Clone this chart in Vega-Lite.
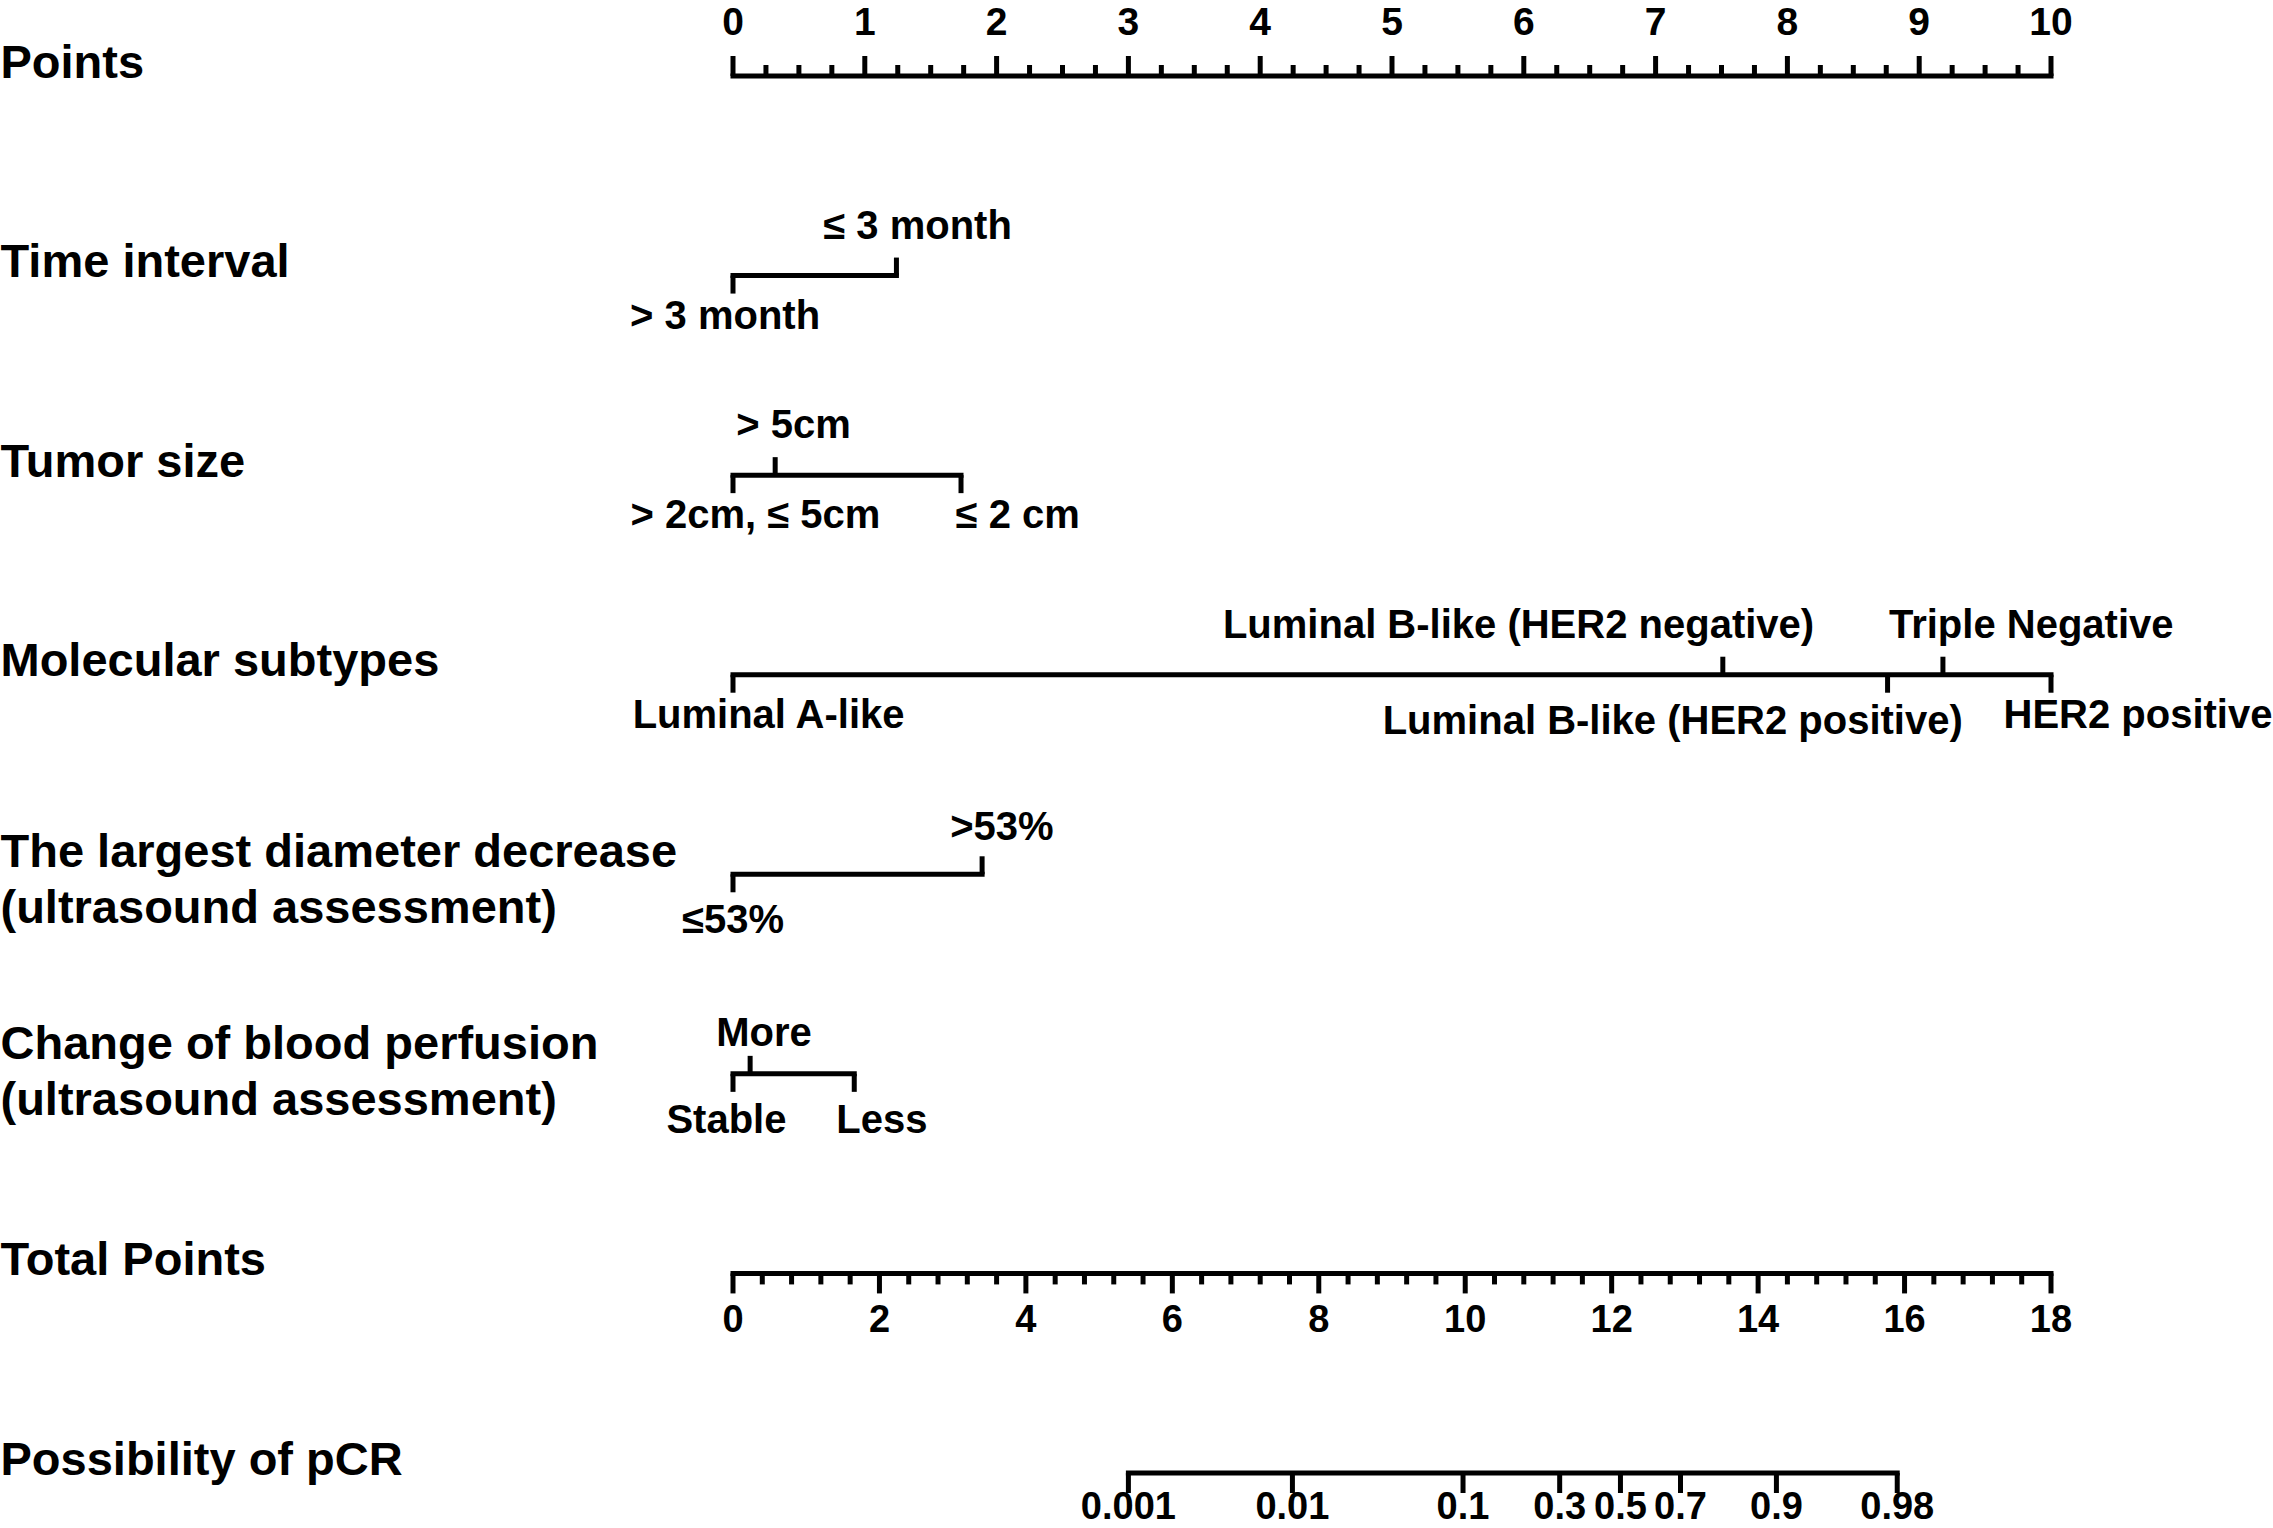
{
  "$schema": "https://vega.github.io/schema/vega-lite/v6.json",
  "width": 1318,
  "height": 1397,
  "autosize": {"type": "none"},
  "padding": {"left": 733, "top": 76, "right": 222, "bottom": 55},
  "background": "white",
  "config": {"view": {"stroke": null}},
  "datasets": {
    "scales": [
      {"row": "Points", "unit": "pt", "from": 0, "to": 10},
      {"row": "Time interval", "unit": "pt", "from": 0, "to": 1.24},
      {"row": "Tumor size", "unit": "pt", "from": 0, "to": 1.73},
      {"row": "Molecular subtypes", "unit": "pt", "from": 0, "to": 10},
      {"row": "The largest diameter decrease\n(ultrasound assessment)", "unit": "pt", "from": 0, "to": 1.89},
      {"row": "Change of blood perfusion\n(ultrasound assessment)", "unit": "pt", "from": 0, "to": 0.92},
      {"row": "Total Points", "unit": "tp", "from": 0, "to": 18},
      {"row": "Possibility of pCR", "unit": "tp", "from": 5.40, "to": 15.90}
    ],
    "levels": [
      {"row": "Time interval", "x": 0, "label": "> 3 month", "lx": -0.06, "side": "below"},
      {"row": "Time interval", "x": 1.24, "label": "≤ 3 month", "lx": 1.40, "side": "above"},
      {"row": "Tumor size", "x": 0, "label": "> 2cm, ≤ 5cm", "lx": 0.17, "side": "below"},
      {"row": "Tumor size", "x": 0.32, "label": "> 5cm", "lx": 0.46, "side": "above"},
      {"row": "Tumor size", "x": 1.73, "label": "≤ 2 cm", "lx": 2.16, "side": "below"},
      {"row": "Molecular subtypes", "x": 0, "label": "Luminal A-like", "lx": 0.27, "side": "below"},
      {"row": "Molecular subtypes", "x": 7.51, "label": "Luminal B-like (HER2 negative)", "lx": 5.96, "side": "above"},
      {"row": "Molecular subtypes", "x": 8.76, "label": "Luminal B-like (HER2 positive)", "lx": 7.13, "side": "below"},
      {"row": "Molecular subtypes", "x": 9.18, "label": "Triple Negative", "lx": 9.85, "side": "above"},
      {"row": "Molecular subtypes", "x": 10, "label": "HER2 positive", "lx": 10.66, "side": "below"},
      {"row": "The largest diameter decrease\n(ultrasound assessment)", "x": 0, "label": "≤53%", "lx": 0.0, "side": "below"},
      {"row": "The largest diameter decrease\n(ultrasound assessment)", "x": 1.89, "label": ">53%", "lx": 2.04, "side": "above"},
      {"row": "Change of blood perfusion\n(ultrasound assessment)", "x": 0, "label": "Stable", "lx": -0.05, "side": "below"},
      {"row": "Change of blood perfusion\n(ultrasound assessment)", "x": 0.13, "label": "More", "lx": 0.235, "side": "above"},
      {"row": "Change of blood perfusion\n(ultrasound assessment)", "x": 0.92, "label": "Less", "lx": 1.13, "side": "below"}
    ],
    "axisTicks": [
      {"row": "Points", "value": 0, "kind": "major", "label": "0"},
      {"row": "Points", "value": 1, "kind": "major", "label": "1"},
      {"row": "Points", "value": 2, "kind": "major", "label": "2"},
      {"row": "Points", "value": 3, "kind": "major", "label": "3"},
      {"row": "Points", "value": 4, "kind": "major", "label": "4"},
      {"row": "Points", "value": 5, "kind": "major", "label": "5"},
      {"row": "Points", "value": 6, "kind": "major", "label": "6"},
      {"row": "Points", "value": 7, "kind": "major", "label": "7"},
      {"row": "Points", "value": 8, "kind": "major", "label": "8"},
      {"row": "Points", "value": 9, "kind": "major", "label": "9"},
      {"row": "Points", "value": 10, "kind": "major", "label": "10"},
      {"row": "Points", "value": 0.25, "kind": "minor"},
      {"row": "Points", "value": 0.5, "kind": "minor"},
      {"row": "Points", "value": 0.75, "kind": "minor"},
      {"row": "Points", "value": 1.25, "kind": "minor"},
      {"row": "Points", "value": 1.5, "kind": "minor"},
      {"row": "Points", "value": 1.75, "kind": "minor"},
      {"row": "Points", "value": 2.25, "kind": "minor"},
      {"row": "Points", "value": 2.5, "kind": "minor"},
      {"row": "Points", "value": 2.75, "kind": "minor"},
      {"row": "Points", "value": 3.25, "kind": "minor"},
      {"row": "Points", "value": 3.5, "kind": "minor"},
      {"row": "Points", "value": 3.75, "kind": "minor"},
      {"row": "Points", "value": 4.25, "kind": "minor"},
      {"row": "Points", "value": 4.5, "kind": "minor"},
      {"row": "Points", "value": 4.75, "kind": "minor"},
      {"row": "Points", "value": 5.25, "kind": "minor"},
      {"row": "Points", "value": 5.5, "kind": "minor"},
      {"row": "Points", "value": 5.75, "kind": "minor"},
      {"row": "Points", "value": 6.25, "kind": "minor"},
      {"row": "Points", "value": 6.5, "kind": "minor"},
      {"row": "Points", "value": 6.75, "kind": "minor"},
      {"row": "Points", "value": 7.25, "kind": "minor"},
      {"row": "Points", "value": 7.5, "kind": "minor"},
      {"row": "Points", "value": 7.75, "kind": "minor"},
      {"row": "Points", "value": 8.25, "kind": "minor"},
      {"row": "Points", "value": 8.5, "kind": "minor"},
      {"row": "Points", "value": 8.75, "kind": "minor"},
      {"row": "Points", "value": 9.25, "kind": "minor"},
      {"row": "Points", "value": 9.5, "kind": "minor"},
      {"row": "Points", "value": 9.75, "kind": "minor"},
      {"row": "Total Points", "value": 0, "kind": "major", "label": "0"},
      {"row": "Total Points", "value": 2, "kind": "major", "label": "2"},
      {"row": "Total Points", "value": 4, "kind": "major", "label": "4"},
      {"row": "Total Points", "value": 6, "kind": "major", "label": "6"},
      {"row": "Total Points", "value": 8, "kind": "major", "label": "8"},
      {"row": "Total Points", "value": 10, "kind": "major", "label": "10"},
      {"row": "Total Points", "value": 12, "kind": "major", "label": "12"},
      {"row": "Total Points", "value": 14, "kind": "major", "label": "14"},
      {"row": "Total Points", "value": 16, "kind": "major", "label": "16"},
      {"row": "Total Points", "value": 18, "kind": "major", "label": "18"},
      {"row": "Total Points", "value": 0.4, "kind": "minor"},
      {"row": "Total Points", "value": 0.8, "kind": "minor"},
      {"row": "Total Points", "value": 1.2, "kind": "minor"},
      {"row": "Total Points", "value": 1.6, "kind": "minor"},
      {"row": "Total Points", "value": 2.4, "kind": "minor"},
      {"row": "Total Points", "value": 2.8, "kind": "minor"},
      {"row": "Total Points", "value": 3.2, "kind": "minor"},
      {"row": "Total Points", "value": 3.6, "kind": "minor"},
      {"row": "Total Points", "value": 4.4, "kind": "minor"},
      {"row": "Total Points", "value": 4.8, "kind": "minor"},
      {"row": "Total Points", "value": 5.2, "kind": "minor"},
      {"row": "Total Points", "value": 5.6, "kind": "minor"},
      {"row": "Total Points", "value": 6.4, "kind": "minor"},
      {"row": "Total Points", "value": 6.8, "kind": "minor"},
      {"row": "Total Points", "value": 7.2, "kind": "minor"},
      {"row": "Total Points", "value": 7.6, "kind": "minor"},
      {"row": "Total Points", "value": 8.4, "kind": "minor"},
      {"row": "Total Points", "value": 8.8, "kind": "minor"},
      {"row": "Total Points", "value": 9.2, "kind": "minor"},
      {"row": "Total Points", "value": 9.6, "kind": "minor"},
      {"row": "Total Points", "value": 10.4, "kind": "minor"},
      {"row": "Total Points", "value": 10.8, "kind": "minor"},
      {"row": "Total Points", "value": 11.2, "kind": "minor"},
      {"row": "Total Points", "value": 11.6, "kind": "minor"},
      {"row": "Total Points", "value": 12.4, "kind": "minor"},
      {"row": "Total Points", "value": 12.8, "kind": "minor"},
      {"row": "Total Points", "value": 13.2, "kind": "minor"},
      {"row": "Total Points", "value": 13.6, "kind": "minor"},
      {"row": "Total Points", "value": 14.4, "kind": "minor"},
      {"row": "Total Points", "value": 14.8, "kind": "minor"},
      {"row": "Total Points", "value": 15.2, "kind": "minor"},
      {"row": "Total Points", "value": 15.6, "kind": "minor"},
      {"row": "Total Points", "value": 16.4, "kind": "minor"},
      {"row": "Total Points", "value": 16.8, "kind": "minor"},
      {"row": "Total Points", "value": 17.2, "kind": "minor"},
      {"row": "Total Points", "value": 17.6, "kind": "minor"},
      {"row": "Possibility of pCR", "value": 5.40, "kind": "major", "label": "0.001"},
      {"row": "Possibility of pCR", "value": 7.64, "kind": "major", "label": "0.01"},
      {"row": "Possibility of pCR", "value": 9.97, "kind": "major", "label": "0.1"},
      {"row": "Possibility of pCR", "value": 11.29, "kind": "major", "label": "0.3"},
      {"row": "Possibility of pCR", "value": 12.12, "kind": "major", "label": "0.5"},
      {"row": "Possibility of pCR", "value": 12.94, "kind": "major", "label": "0.7"},
      {"row": "Possibility of pCR", "value": 14.25, "kind": "major", "label": "0.9"},
      {"row": "Possibility of pCR", "value": 15.90, "kind": "major", "label": "0.98"}
    ]
  },
  "encoding": {
    "y": {
      "field": "row",
      "type": "nominal",
      "scale": {
        "type": "point",
        "padding": 0,
        "domain": [
          "Points",
          "Time interval",
          "Tumor size",
          "Molecular subtypes",
          "The largest diameter decrease\n(ultrasound assessment)",
          "Change of blood perfusion\n(ultrasound assessment)",
          "Total Points",
          "Possibility of pCR"
        ]
      },
      "axis": {
        "title": null,
        "domain": false,
        "ticks": false,
        "tickSize": 0,
        "labelAlign": "left",
        "labelBaseline": "alphabetic",
        "labelPadding": 733,
        "labelFont": "Liberation Sans",
        "labelFontSize": 47,
        "labelFontWeight": "bold",
        "labelColor": "black",
        "labelLimit": 2000,
        "labelOverlap": false,
        "labelLineHeight": 56,
        "labelExpr": "split(datum.label, '\\n')",
        "labelOffset": {"condition": [
          {"test": "indexof(datum.value, 'diameter') >= 0", "value": -8},
          {"test": "indexof(datum.value, 'perfusion') >= 0", "value": -15}
        ], "value": 1}
      }
    }
  },
  "layer": [
    {
      "data": {"name": "scales"},
      "transform": [{"filter": "datum.unit == 'pt'"}],
      "mark": {"type": "rule", "strokeWidth": 5, "color": "black", "strokeCap": "square"},
      "encoding": {
        "x": {"field": "from", "type": "quantitative", "scale": {"domain": [0, 10], "nice": false, "zero": false}, "axis": null},
        "x2": {"field": "to"}
      }
    },
    {
      "data": {"name": "scales"},
      "transform": [{"filter": "datum.unit == 'tp'"}],
      "mark": {"type": "rule", "strokeWidth": 5, "color": "black", "strokeCap": "square"},
      "encoding": {
        "x": {"field": "from", "type": "quantitative", "scale": {"domain": [0, 18], "nice": false, "zero": false}, "axis": null},
        "x2": {"field": "to"}
      }
    },
    {
      "data": {"name": "axisTicks"},
      "transform": [{"filter": "datum.row == 'Points' && datum.kind == 'major'"}],
      "mark": {"type": "tick", "orient": "vertical", "size": 20, "thickness": 5, "color": "black", "opacity": 1, "yOffset": -10},
      "encoding": {
        "x": {"field": "value", "type": "quantitative", "scale": {"domain": [0, 10], "nice": false, "zero": false}, "axis": null}
      }
    },
    {
      "data": {"name": "axisTicks"},
      "transform": [{"filter": "datum.row == 'Points' && datum.kind == 'minor'"}],
      "mark": {"type": "tick", "orient": "vertical", "size": 11, "thickness": 5, "color": "black", "opacity": 1, "yOffset": -5.5},
      "encoding": {
        "x": {"field": "value", "type": "quantitative", "scale": {"domain": [0, 10], "nice": false, "zero": false}, "axis": null}
      }
    },
    {
      "data": {"name": "axisTicks"},
      "transform": [{"filter": "datum.row != 'Points' && datum.kind == 'major'"}],
      "mark": {"type": "tick", "orient": "vertical", "size": 20, "thickness": 5, "color": "black", "opacity": 1, "yOffset": 10},
      "encoding": {
        "x": {"field": "value", "type": "quantitative", "scale": {"domain": [0, 18], "nice": false, "zero": false}, "axis": null}
      }
    },
    {
      "data": {"name": "axisTicks"},
      "transform": [{"filter": "datum.row != 'Points' && datum.kind == 'minor'"}],
      "mark": {"type": "tick", "orient": "vertical", "size": 11, "thickness": 5, "color": "black", "opacity": 1, "yOffset": 5.5},
      "encoding": {
        "x": {"field": "value", "type": "quantitative", "scale": {"domain": [0, 18], "nice": false, "zero": false}, "axis": null}
      }
    },
    {
      "data": {"name": "levels"},
      "transform": [{"filter": "datum.side == 'above'"}],
      "mark": {"type": "tick", "orient": "vertical", "size": 18, "thickness": 5, "color": "black", "opacity": 1, "yOffset": -9},
      "encoding": {
        "x": {"field": "x", "type": "quantitative", "scale": {"domain": [0, 10], "nice": false, "zero": false}, "axis": null}
      }
    },
    {
      "data": {"name": "levels"},
      "transform": [{"filter": "datum.side == 'below'"}],
      "mark": {"type": "tick", "orient": "vertical", "size": 18, "thickness": 5, "color": "black", "opacity": 1, "yOffset": 9},
      "encoding": {
        "x": {"field": "x", "type": "quantitative", "scale": {"domain": [0, 10], "nice": false, "zero": false}, "axis": null}
      }
    },
    {
      "data": {"name": "axisTicks"},
      "transform": [{"filter": "datum.row == 'Points' && datum.kind == 'major'"}],
      "mark": {"type": "text", "font": "Liberation Sans", "fontWeight": "bold", "fontSize": 39, "color": "black", "align": "center", "baseline": "alphabetic", "dy": -41},
      "encoding": {
        "x": {"field": "value", "type": "quantitative", "scale": {"domain": [0, 10], "nice": false, "zero": false}, "axis": null},
        "text": {"field": "label"}
      }
    },
    {
      "data": {"name": "axisTicks"},
      "transform": [{"filter": "datum.row == 'Total Points' && datum.kind == 'major'"}],
      "mark": {"type": "text", "font": "Liberation Sans", "fontWeight": "bold", "fontSize": 38, "color": "black", "align": "center", "baseline": "alphabetic", "dy": 59},
      "encoding": {
        "x": {"field": "value", "type": "quantitative", "scale": {"domain": [0, 18], "nice": false, "zero": false}, "axis": null},
        "text": {"field": "label"}
      }
    },
    {
      "data": {"name": "axisTicks"},
      "transform": [{"filter": "datum.row == 'Possibility of pCR'"}],
      "mark": {"type": "text", "font": "Liberation Sans", "fontWeight": "bold", "fontSize": 38, "color": "black", "align": "center", "baseline": "alphabetic", "dy": 46},
      "encoding": {
        "x": {"field": "value", "type": "quantitative", "scale": {"domain": [0, 18], "nice": false, "zero": false}, "axis": null},
        "text": {"field": "label"}
      }
    },
    {
      "data": {"name": "levels"},
      "transform": [{"filter": "datum.side == 'above' && indexof(datum.row, 'ultrasound') < 0"}],
      "mark": {"type": "text", "font": "Liberation Sans", "fontWeight": "bold", "fontSize": 40, "color": "black", "align": "center", "baseline": "alphabetic", "dy": -37},
      "encoding": {
        "x": {"field": "lx", "type": "quantitative", "scale": {"domain": [0, 10], "nice": false, "zero": false}, "axis": null},
        "text": {"field": "label"}
      }
    },
    {
      "data": {"name": "levels"},
      "transform": [{"filter": "datum.side == 'above' && indexof(datum.row, 'diameter') >= 0"}],
      "mark": {"type": "text", "font": "Liberation Sans", "fontWeight": "bold", "fontSize": 40, "color": "black", "align": "center", "baseline": "alphabetic", "dy": -34},
      "encoding": {
        "x": {"field": "lx", "type": "quantitative", "scale": {"domain": [0, 10], "nice": false, "zero": false}, "axis": null},
        "text": {"field": "label"}
      }
    },
    {
      "data": {"name": "levels"},
      "transform": [{"filter": "datum.side == 'above' && indexof(datum.row, 'perfusion') >= 0"}],
      "mark": {"type": "text", "font": "Liberation Sans", "fontWeight": "bold", "fontSize": 40, "color": "black", "align": "center", "baseline": "alphabetic", "dy": -28},
      "encoding": {
        "x": {"field": "lx", "type": "quantitative", "scale": {"domain": [0, 10], "nice": false, "zero": false}, "axis": null},
        "text": {"field": "label"}
      }
    },
    {
      "data": {"name": "levels"},
      "transform": [{"filter": "datum.side == 'below' && indexof(datum.row, 'ultrasound') < 0 && datum.label != 'Luminal B-like (HER2 positive)'"}],
      "mark": {"type": "text", "font": "Liberation Sans", "fontWeight": "bold", "fontSize": 40, "color": "black", "align": "center", "baseline": "alphabetic", "dy": 53},
      "encoding": {
        "x": {"field": "lx", "type": "quantitative", "scale": {"domain": [0, 10], "nice": false, "zero": false}, "axis": null},
        "text": {"field": "label"}
      }
    },
    {
      "data": {"name": "levels"},
      "transform": [{"filter": "datum.side == 'below' && (indexof(datum.row, 'ultrasound') >= 0 || datum.label == 'Luminal B-like (HER2 positive)')"}],
      "mark": {"type": "text", "font": "Liberation Sans", "fontWeight": "bold", "fontSize": 40, "color": "black", "align": "center", "baseline": "alphabetic", "dy": 59},
      "encoding": {
        "x": {"field": "lx", "type": "quantitative", "scale": {"domain": [0, 10], "nice": false, "zero": false}, "axis": null},
        "text": {"field": "label"}
      }
    }
  ],
  "resolve": {"scale": {"x": "independent"}}
}
